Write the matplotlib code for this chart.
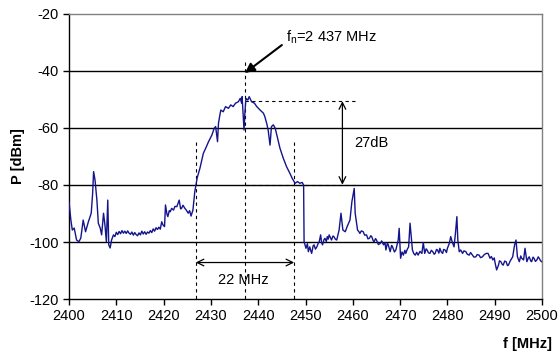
import numpy as np
import matplotlib
matplotlib.use("Agg")
import matplotlib.pyplot as plt

plt.rcParams['font.family'] = ['Liberation Sans', 'DejaVu Sans']
plt.rcParams['axes.unicode_minus'] = False

# spectrum trace (f in MHz, P in dBm)
f_mhz = [2400.0, 2400.4, 2400.7, 2401.1, 2401.6, 2402.1, 2402.5, 2403.0, 2403.5, 2404.1,
         2404.7, 2405.0, 2405.2, 2405.5, 2405.9, 2406.2, 2406.6, 2406.9, 2407.3, 2407.6,
         2407.9, 2408.2, 2408.4, 2408.7, 2409.0, 2409.4, 2409.7, 2410.0, 2410.3, 2410.6,
         2410.9, 2411.2, 2411.5, 2411.8, 2412.1, 2412.4, 2412.7, 2413.0, 2413.3, 2413.6,
         2413.9, 2414.2, 2414.5, 2414.8, 2415.1, 2415.4, 2415.7, 2416.0, 2416.3, 2416.6,
         2416.9, 2417.2, 2417.5, 2417.8, 2418.1, 2418.4, 2418.7, 2419.0, 2419.3, 2419.6,
         2419.9, 2420.2, 2420.4, 2420.7, 2420.9, 2421.2, 2421.4, 2421.7, 2422.1, 2422.4,
         2422.8, 2423.1, 2423.3, 2423.6, 2423.8, 2424.1, 2424.5, 2424.8, 2425.2, 2425.5,
         2425.8, 2426.2, 2426.6,
         2427.1, 2427.7, 2428.4, 2428.9, 2429.5, 2430.2, 2430.7, 2431.0, 2431.4, 2431.6,
         2431.9, 2432.1, 2432.6, 2433.1, 2433.7, 2434.2, 2434.7, 2435.2, 2435.8, 2436.2,
         2436.5, 2436.6, 2437.0, 2437.2, 2437.4, 2437.8, 2438.1, 2438.6, 2439.2, 2439.7,
         2440.4, 2441.1, 2441.4, 2441.8, 2442.1, 2442.5, 2442.8, 2443.2, 2443.6, 2444.1,
         2444.6, 2445.3, 2446.0, 2446.7, 2447.2, 2447.8, 2448.3, 2448.8, 2449.3, 2449.6,
         2449.7, 2450.1, 2450.4, 2450.6, 2450.9, 2451.1, 2451.3, 2451.6, 2451.8, 2452.1,
         2452.4, 2452.7, 2452.9, 2453.2, 2453.4, 2453.6, 2453.9,
         2454.1, 2454.4, 2454.6, 2454.8, 2455.0, 2455.3, 2455.5, 2455.8, 2456.0, 2456.3,
         2456.6, 2457.1, 2457.5, 2457.9, 2458.4,
         2458.8, 2459.4, 2459.8, 2460.3, 2460.5, 2461.0, 2461.3, 2461.5, 2461.8, 2462.2,
         2462.5, 2462.9, 2463.2, 2463.5, 2463.8,
         2464.0, 2464.3, 2464.5, 2464.8, 2465.0, 2465.4, 2465.8, 2466.1, 2466.5, 2466.8,
         2467.0, 2467.3, 2467.5, 2467.9, 2468.2, 2468.4, 2468.8, 2469.1,
         2469.6, 2469.8, 2470.1, 2470.4, 2470.7, 2471.0, 2471.2, 2471.5, 2471.8, 2472.1,
         2472.6, 2472.9, 2473.2, 2473.5, 2473.8,
         2474.2, 2474.6, 2474.9, 2475.2, 2475.5, 2475.7, 2476.0, 2476.3, 2476.6, 2476.9,
         2477.2, 2477.4, 2477.7, 2477.9, 2478.2, 2478.4, 2478.7, 2479.0,
         2479.2, 2479.5, 2479.8, 2480.0, 2480.4, 2480.7, 2481.0, 2481.4, 2481.7, 2482.0,
         2482.2, 2482.5, 2482.8, 2483.2, 2483.5, 2483.9, 2484.2, 2484.6, 2484.9, 2485.3,
         2485.6, 2486.0, 2486.3, 2486.7, 2487.0, 2487.4, 2487.8, 2488.2, 2488.6, 2489.0,
         2489.3, 2489.6, 2489.9, 2490.1, 2490.4, 2490.8, 2491.0, 2491.3, 2491.6, 2491.8,
         2492.1, 2492.4, 2492.7, 2492.9, 2493.2, 2493.4, 2493.8,
         2494.2, 2494.5, 2494.8, 2495.2, 2495.5, 2495.7, 2496.1, 2496.4, 2496.8, 2497.1,
         2497.3, 2497.6, 2497.8, 2498.1, 2498.3, 2498.6, 2498.9, 2499.2, 2499.4, 2499.7,
         2499.9]
p_dbm = [-85.9, -92.3, -95.8, -95.1, -99.3, -99.9, -98.6, -92.3, -96.4, -92.9,
         -89.9, -82.9, -75.3, -78.2, -85.3, -93.4, -95.1, -97.5, -89.9, -94.0,
         -99.9, -85.3, -101.0, -102.1, -99.3, -97.5, -98.1, -96.6, -97.4, -96.3,
         -97.1, -96.0, -96.9, -96.2, -97.0, -96.1, -96.9, -97.3, -96.5, -97.6,
         -96.7, -97.4, -97.8, -96.8, -97.5, -96.2, -97.2, -96.4, -97.3, -96.5,
         -96.9, -96.0, -96.7, -95.4, -96.2, -95.0, -95.6, -94.8, -95.5, -92.9,
         -94.1, -94.6, -87.0, -90.2, -91.1, -89.0, -89.4, -88.2, -88.8, -87.5,
         -87.6, -86.2, -85.3, -88.4, -88.2, -87.1, -88.2, -88.8, -89.9, -89.0,
         -90.9, -88.8, -82.3,
         -77.5, -74.0, -68.9, -67.1, -64.8, -62.5, -60.1, -59.5, -64.8, -58.4,
         -55.4, -53.7, -54.3, -52.5, -53.1, -51.9, -52.5, -51.3, -50.8, -49.6,
         -51.3, -49.0, -60.7, -54.3, -49.6, -50.2, -49.0, -50.8, -51.3, -52.5,
         -53.7, -54.8, -56.0, -58.4, -60.7, -66.0, -59.5, -58.9, -60.1, -63.6,
         -67.1, -70.6, -73.6, -75.9, -77.7, -79.4, -78.8, -79.4, -79.1, -80.0,
         -99.9, -102.2, -100.6, -103.4, -101.7, -103.0, -104.0, -101.4, -101.0, -102.5,
         -101.7, -100.4, -99.9, -97.5, -100.2, -101.0, -99.2,
         -98.7, -99.8, -98.1, -99.0, -97.5, -98.6, -99.3, -97.9, -98.1, -99.0,
         -99.3, -95.8, -89.9, -95.8, -96.4,
         -94.6, -92.3, -85.9, -81.2, -89.9, -95.8, -96.4, -97.0, -96.1, -96.4,
         -97.6, -97.5, -98.9, -98.7, -97.8,
         -98.1, -99.5, -99.9, -98.8, -99.3, -100.9, -100.5, -99.6, -101.0, -100.2,
         -102.8, -100.4, -101.0, -103.4, -101.2, -101.7, -103.5, -102.8,
         -99.3, -95.2, -105.7, -103.5, -104.6, -102.9, -104.0, -102.6, -101.7, -93.4,
         -102.8, -104.1, -104.6, -103.6, -104.6,
         -103.3, -104.0, -100.2, -104.0, -102.4, -102.8, -103.8, -104.0, -102.9, -103.4,
         -104.3, -104.0, -102.6, -102.8, -103.9, -102.2, -103.5, -104.0,
         -102.6, -102.8, -103.7, -102.2, -100.5, -98.1, -99.9, -101.7, -96.9, -91.1,
         -99.3, -103.4, -102.8, -104.0, -103.1, -103.4, -104.3, -104.6, -103.7, -104.6,
         -105.3, -105.2, -104.4, -104.6, -105.5, -105.2, -104.4, -104.0, -104.0, -105.7,
         -105.1, -106.3, -105.6, -107.5, -109.8, -108.1, -106.6, -106.9, -107.9, -108.1,
         -106.7, -106.9, -108.3, -108.1, -106.9, -106.3, -105.2,
         -101.0, -99.3, -105.2, -106.9, -104.9, -105.7, -106.3, -102.2, -106.9, -105.6,
         -105.2, -106.6, -106.9, -105.3, -105.7, -106.8, -106.3, -105.2, -105.7, -106.6,
         -106.9]

x_ticks = np.arange(2400, 2501, 10)
y_ticks = np.arange(-120, -19, 20)

# annotation positions
f_left, f_center, f_right = 2426.8, 2437.2, 2447.6
p_top, p_3db = -50.6, -79.9
f_ref_end = 2460.5
f_arrow = 2457.8

fig = plt.figure(figsize=(5.6, 3.56), dpi=100)
ax = fig.add_axes([0.1232, 0.1601, 0.8447, 0.8006])

for y in [-40, -60, -80, -100]:
    ax.axhline(y, color='black', lw=1.0, zorder=1)

ax.plot(f_mhz, p_dbm, color='#14148c', lw=1.0, zorder=3)

dash = dict(color='black', lw=0.8, ls=(0, (3, 3)), zorder=2)
ax.plot([f_left, f_left], [-65, -120], **dash)
ax.plot([f_right, f_right], [-65, -120], **dash)
ax.plot([f_center, f_center], [-36.7, -120], **dash)
ax.plot([f_center, f_ref_end], [p_top, p_top], **dash)
ax.plot([f_center, f_ref_end], [p_3db, p_3db], **dash)

ax.annotate('', xy=(f_arrow, p_top), xytext=(f_arrow, p_3db),
            arrowprops=dict(arrowstyle='<->', color='black', lw=0.9,
                            shrinkA=0, shrinkB=0, mutation_scale=12))
ax.text(2460.4, -65.3, '27dB', fontsize=10.5, va='center', ha='left')

ax.annotate('', xy=(f_left, -107.2), xytext=(f_right, -107.2),
            arrowprops=dict(arrowstyle='<->', color='black', lw=0.9,
                            shrinkA=0, shrinkB=0, mutation_scale=12))
ax.text(2436.8, -113.3, '22 MHz', fontsize=10.5, va='center', ha='center')

ax.annotate('', xy=(f_center, -40.7), xytext=(2445.0, -30.9),
            arrowprops=dict(arrowstyle='-|>', color='black', lw=1.5,
                            shrinkA=0, shrinkB=0, mutation_scale=14))
ax.text(2445.9, -28.0, r'f$_\mathregular{n}$=2 437 MHz', fontsize=10.5, va='center', ha='left')

ax.set_xlim(2400, 2500)
ax.set_ylim(-120, -20)
ax.set_xticks(x_ticks)
ax.set_yticks(y_ticks)
ax.tick_params(direction='out', length=4, width=1, labelsize=10.5, colors='black',
               top=False, right=False)
for side in ['left', 'bottom']:
    ax.spines[side].set_color('black')
    ax.spines[side].set_linewidth(1.0)
for side in ['top', 'right']:
    ax.spines[side].set_color('#808080')
    ax.spines[side].set_linewidth(1.0)

ax.set_ylabel('P [dBm]', fontsize=10.5, fontweight='bold', labelpad=3)
fig.text(0.985, 0.035, 'f [MHz]', fontsize=10.5, fontweight='bold', ha='right', va='center')

fig.savefig('out.png', dpi=100)
